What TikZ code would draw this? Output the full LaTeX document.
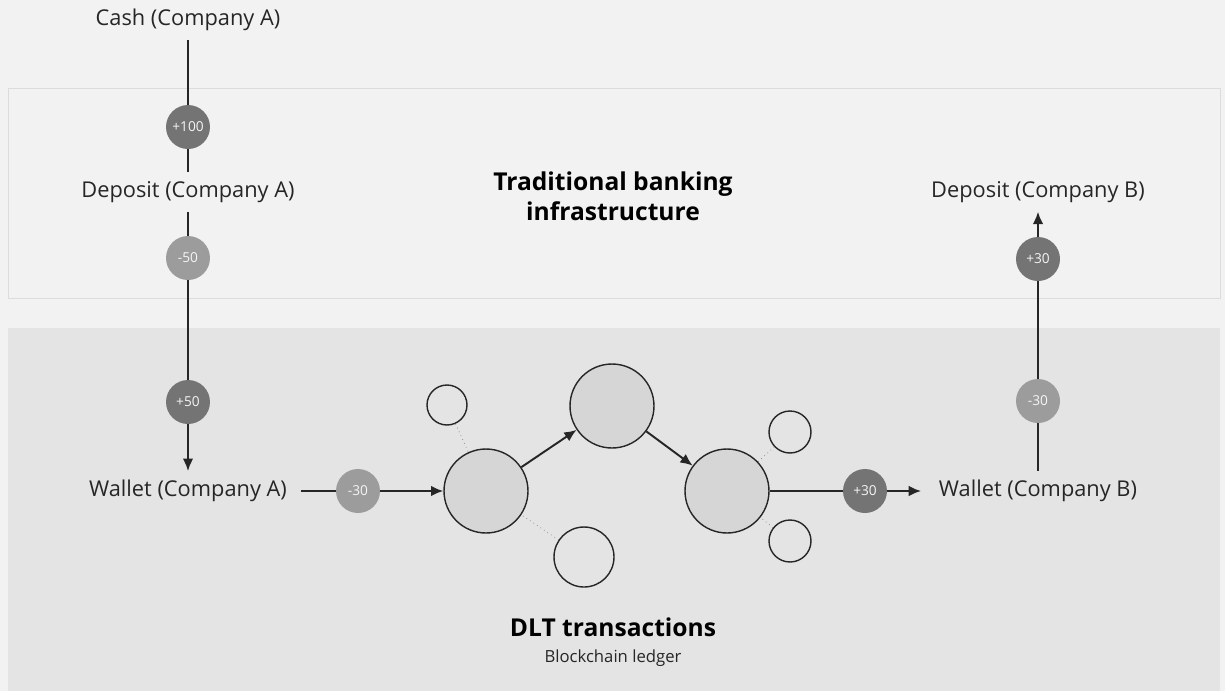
\documentclass[tikz,border=0pt]{standalone}
\usepackage{fontspec}
\setmainfont{Open Sans}
\usetikzlibrary{positioning,calc,arrows.meta}

\definecolor{paper}{HTML}{F2F2F2}
\definecolor{bankedge}{HTML}{DCDCDC}
\definecolor{dltbg}{HTML}{E4E4E4}
\definecolor{blockfill}{HTML}{D6D6D6}
\definecolor{coindark}{HTML}{747474}
\definecolor{coinlight}{HTML}{9C9C9C}
\definecolor{txtgray}{HTML}{262626}

\begin{document}
\begin{tikzpicture}[
	x=0.02cm, y=-0.02cm,
	lbl/.style = {inner xsep=8pt, inner ysep=5pt, text=txtgray,
		font=\fontsize{12.4}{15}\selectfont},
	headline/.style = {align=center, text=black,
		font=\fontsize{14}{17}\selectfont\bfseries},
	coin/.style = {circle, minimum size=0.88cm, inner sep=0pt,
		text=white!92!gray, font=\fontsize{7.8}{8}\selectfont},
	pluscoin/.style = {coin, fill=coindark},
	minuscoin/.style = {coin, fill=coinlight},
	block/.style = {circle, draw=black!85, thick, fill=blockfill,
		minimum size=1.68cm},
	peer/.style = {circle, draw=black!85, thick, fill=dltbg, inner sep=0pt},
	flow/.style = {line width=1.1pt, black!85},
	tip/.style = {-{Latex[length=7pt,width=6pt]}},
	link/.style = {dotted, gray, thin},
	]
	\useasboundingbox[fill=paper] (0,0) rectangle (1225,691);
	
	% the two areas
	\draw[bankedge, fill=paper] (8,88) rectangle (1220,298);
	\fill[dltbg] (8,328) rectangle (1220,691);
	
	\begin{scope}[every node/.append style={lbl}]
	\node (cashA)   at (188,20)  {Cash (Company A)};
	\node (depA)    at (188,192) {Deposit (Company A)};
	\node (walletA) at (188,491) {Wallet (Company A)};
	\node (walletB) at (1038,491) {Wallet (Company B)};
	\node (depB)    at (1038,192) {Deposit (Company B)};
	\end{scope}
	
	\node[headline] (bank) at (613,196) {Traditional banking\\infrastructure};
	\node[headline] (dlt) at (613,627) {DLT transactions};
	\node[text=txtgray, font=\fontsize{9.5}{11}\selectfont] (ledger) at (613,658) {Blockchain ledger};
	
	% ledger nodes
	\node[block] (b1) at (486,491) {};
	\node[block] (b2) at (612,406) {};
	\node[block] (b3) at (727,491) {};
	\node[peer, minimum size=0.8cm]  (p1) at (447,405) {};
	\node[peer, minimum size=1.2cm]  (p2) at (584,557) {};
	\node[peer, minimum size=0.84cm] (p3) at (790,432) {};
	\node[peer, minimum size=0.84cm] (p4) at (790,541) {};
	
	\draw[link] (p1) -- (b1);
	\draw[link] (p2) -- (b1);
	\draw[link] (p3) -- (b3);
	\draw[link] (p4) -- (b3);
	
	\draw[flow] (cashA) -- (depA);
	\draw[flow,tip] (depA) -- (walletA);
	\draw[flow,tip] (walletA) -- (b1);
	\draw[flow,tip] (b1) -- (b2);
	\draw[flow,tip] (b2) -- (b3);
	\draw[flow,tip, shorten >=2pt] (b3) -- (walletB);
	\draw[flow,tip] (walletB) -- (depB);
	
	% amounts on the flows
	\node[pluscoin]  (c1) at (188,127) {+100};
	\node[minuscoin] (c2) at (188,258) {-50};
	\node[pluscoin]  (c3) at (188,402) {+50};
	\node[minuscoin] (c4) at (358,491) {-30};
	\node[pluscoin]  (c5) at (865,491) {+30};
	\node[minuscoin] (c6) at (1038,401) {-30};
	\node[pluscoin]  (c7) at (1038,259) {+30};
\end{tikzpicture}
\end{document}
